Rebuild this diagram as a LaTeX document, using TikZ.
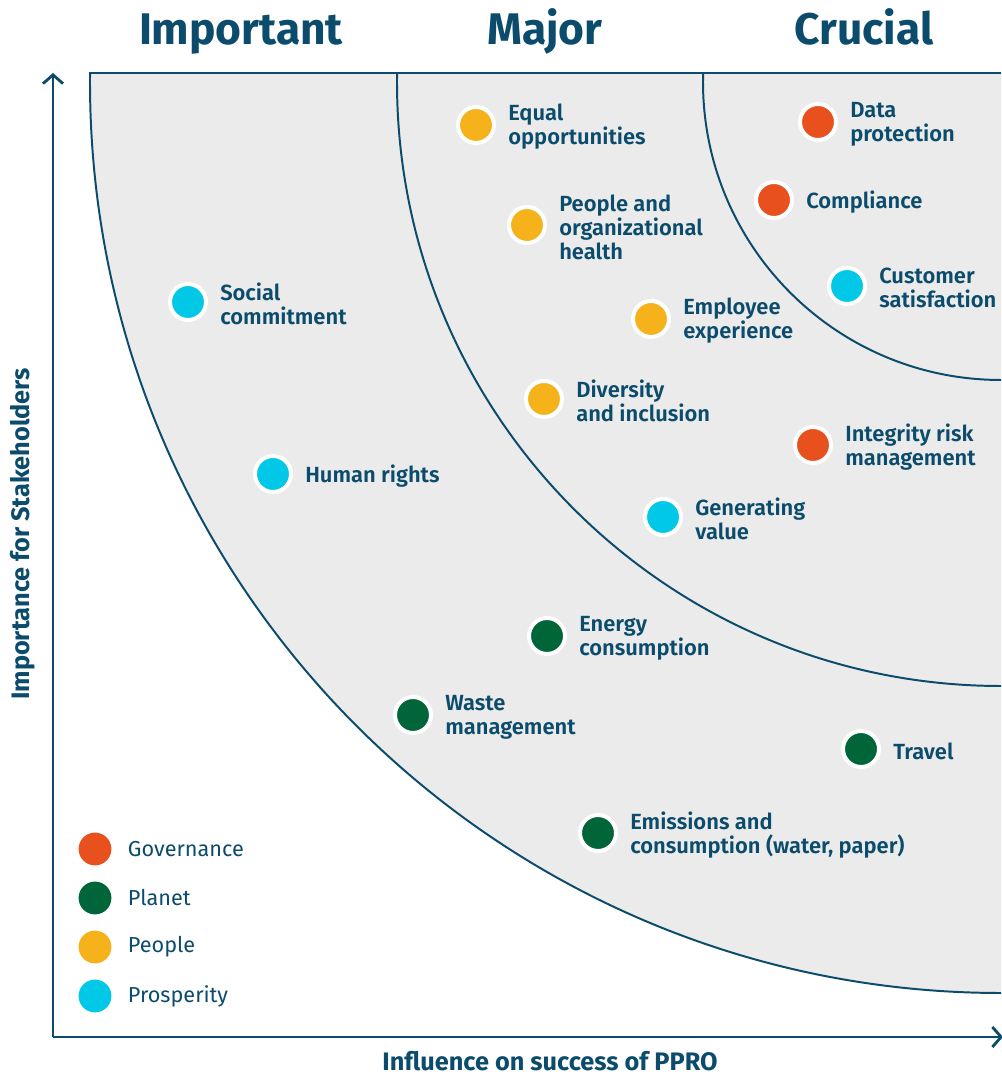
\documentclass[tikz,border=0pt]{standalone}
\usepackage{fontspec}
\setmainfont{Fira Sans}[BoldFont={Fira Sans SemiBold}]
\newfontfamily\headfont{Fira Sans Bold}
\usetikzlibrary{positioning,arrows.meta}

\definecolor{ink}{HTML}{0B4B6B}
\definecolor{diskgray}{HTML}{EBEBEB}
\definecolor{gov}{HTML}{E8501E}
\definecolor{planet}{HTML}{00663A}
\definecolor{people}{HTML}{F6B21B}
\definecolor{prosp}{HTML}{00C8E6}

\begin{document}
\begin{tikzpicture}[x=0.025cm,y=0.025cm,
    dot/.style={circle,draw=white,line width=0.1cm,minimum size=0.9cm,inner sep=0pt},
    key/.style={circle,minimum size=0.82cm,inner sep=0pt}]
    \tikzstyle{lbl}=[inner sep=0pt,align=left,anchor=west,text=ink,yshift=-0.05cm,
        font=\fontsize{15.6}{17}\selectfont\bfseries]
    \tikzstyle{keylbl}=[inner sep=0pt,anchor=west,text=ink,
        font=\fontsize{15.4}{17}\selectfont]
    \useasboundingbox (0,0) rectangle (1001,1077);

    % grey quarter disc and the three rings
    \begin{scope}
      \clip (0,0) rectangle (1001,1004);
      \fill[diskgray] (1001,995) circle (911);
      \draw[ink,line width=1.4pt] (1001,995) circle (911);
      \draw[ink,line width=1.4pt] (1001,995) circle (604);
      \draw[ink,line width=1.4pt] (1001,995) circle (298);
    \end{scope}
    \draw[ink,line width=1.4pt] (90,1004) -- (1001,1004);

    % axes
    \coordinate (o) at (53,40);
    \coordinate (ytop) at (53,1004);
    \coordinate (xend) at (1003,40);
    \draw[ink,line width=2pt,-{Straight Barb[length=0.22cm,width=0.5cm]}] (o) -- (ytop);
    \draw[ink,line width=2pt,-{Straight Barb[length=0.22cm,width=0.5cm]}] (o) -- (xend);

    % headings
    \node[anchor=base,text=ink,font=\fontsize{31.5}{33}\headfont] (imp) at (241,1032) {Important};
    \node[anchor=base,text=ink,font=\fontsize{31.5}{33}\headfont] (maj) at (545,1032) {Major};
    \node[anchor=base,text=ink,font=\fontsize{31.5}{33}\headfont] (cru) at (864,1032) {Crucial};
    \node[anchor=base,inner sep=0pt,text=ink,font=\fontsize{18}{19}\headfont] (xlab) at (550,7) {Influence on success of PPRO};
    \node[anchor=base,rotate=90,text=ink,font=\fontsize{18}{19}\headfont] (ylab) at (29,543) {Importance for Stakeholders};

    % topics
    \node[dot,fill=people] (eqop) at (476,952) {};
    \node[lbl,right=0.3cm of eqop] {Equal\\opportunities};
    \node[dot,fill=gov] (data) at (818,955) {};
    \node[lbl,right=0.3cm of data] {Data\\protection};
    \node[dot,fill=gov] (compl) at (774,877) {};
    \node[lbl,right=0.3cm of compl] {Compliance};
    \node[dot,fill=people] (orghealth) at (527,852) {};
    \node[lbl,right=0.3cm of orghealth] {People and\\organizational\\health};
    \node[dot,fill=prosp] (cust) at (847,791) {};
    \node[lbl,right=0.3cm of cust] {Customer\\satisfaction};
    \node[dot,fill=prosp] (social) at (188,775) {};
    \node[lbl,right=0.3cm of social] {Social\\commitment};
    \node[dot,fill=people] (empl) at (651,758) {};
    \node[lbl,right=0.3cm of empl] {Employee\\experience};
    \node[dot,fill=people] (divers) at (544,678) {};
    \node[lbl,right=0.3cm of divers] {Diversity\\and inclusion};
    \node[dot,fill=gov] (integ) at (813,632) {};
    \node[lbl,right=0.3cm of integ] {Integrity risk\\management};
    \node[dot,fill=prosp] (human) at (273,603) {};
    \node[lbl,right=0.3cm of human] {Human rights};
    \node[dot,fill=prosp] (genval) at (663,560) {};
    \node[lbl,right=0.3cm of genval] {Generating\\value};
    \node[dot,fill=planet] (energy) at (547,441) {};
    \node[lbl,right=0.3cm of energy] {Energy\\consumption};
    \node[dot,fill=planet] (waste) at (413,362) {};
    \node[lbl,right=0.3cm of waste] {Waste\\management};
    \node[dot,fill=planet] (travel) at (861,328) {};
    \node[lbl,right=0.3cm of travel] {Travel};
    \node[dot,fill=planet] (emis) at (598,244) {};
    \node[lbl,right=0.3cm of emis] {Emissions and\\consumption (water, paper)};

    % legend
    \node[key,fill=gov] (kgov) at (95,228) {};
    \node[keylbl,right=0.4cm of kgov] {Governance};
    \node[key,fill=planet] (kplanet) at (95,179) {};
    \node[keylbl,right=0.4cm of kplanet] {Planet};
    \node[key,fill=people] (kpeople) at (95,130) {};
    \node[keylbl,right=0.4cm of kpeople] {People};
    \node[key,fill=prosp] (kprosp) at (95,81) {};
    \node[keylbl,right=0.4cm of kprosp] {Prosperity};
\end{tikzpicture}
\end{document}
